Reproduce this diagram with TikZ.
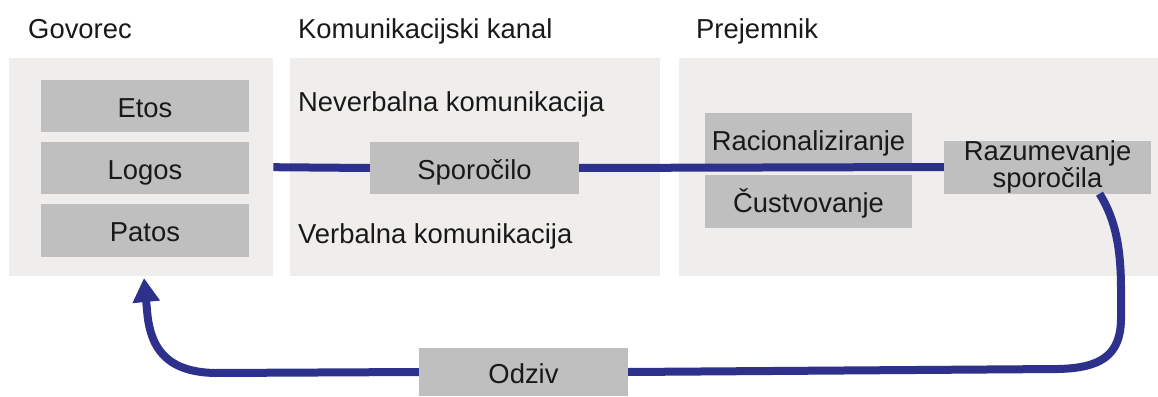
\documentclass[tikz,border=0pt]{standalone}
\usepackage{fontspec}
\setmainfont{Liberation Sans}
\usetikzlibrary{arrows.meta,calc}
\definecolor{panelgray}{RGB}{239,238,236}
\definecolor{boxgray}{RGB}{191,191,191}
\definecolor{navyline}{RGB}{46,49,140}
\definecolor{txtcol}{RGB}{25,25,25}
\newcommand\dfont{\fontsize{27.4}{27.4}\selectfont}
\begin{document}
\begin{tikzpicture}[x=1pt,y=-1pt,
  panel/.style={fill=panelgray, draw=none, inner sep=0pt, anchor=north west},
  graybox/.style={fill=boxgray, draw=none, inner sep=0pt, minimum width=208pt, minimum height=52pt, font=\dfont, text=txtcol, align=center},
  onebox/.style={graybox, text height=23pt, text depth=1pt},
  title/.style={anchor=base west, inner sep=0pt, font=\dfont, text=txtcol},
  conn/.style={draw=navyline, line width=8pt},
  every node/.append style={text=txtcol}]
\useasboundingbox (0,0) rectangle (1158,396);
% panels
\node[panel, minimum width=264pt, minimum height=218pt] (p1) at (9,58) {};
\node[panel, minimum width=370pt, minimum height=218pt] (p2) at (290,58) {};
\node[panel, minimum width=479pt, minimum height=218pt] (p3) at (679,58) {};
% titles
\node[title] (t1) at (28,39) {Govorec};
\node[title] (t2) at (298,39) {Komunikacijski kanal};
\node[title] (t3) at (696,39) {Prejemnik};
% speaker boxes
\node[onebox] (etos) at (145,106) {Etos};
\node[onebox] (logos) at (145,168) {Logos};
\node[onebox, minimum height=53pt] (patos) at (145,230.5) {Patos};
% channel
\node[title] (nv) at (298,111) {Neverbalna komunikacija};
\node[title] (vb) at (298,243) {Verbalna komunikacija};
\node[onebox, minimum width=209pt] (spor) at (474.5,168) {Sporočilo};
% receiver
\node[onebox, minimum width=207pt] (rac) at (808.5,139) {Racionaliziranje};
\node[onebox, minimum width=207pt, minimum height=53pt] (cust) at (808.5,201.5) {Čustvovanje};
\node[graybox, minimum width=207pt, minimum height=53pt] (raz) at (1047.5,167) {Razumevanje\\sporočila};
% response
\node[onebox, minimum width=209pt, minimum height=48pt] (odziv) at (523.5,372) {Odziv};
% connectors
\draw[conn] (p1.east) -- (spor.west);
\draw[conn] (spor.east) -- (raz.west);
\coordinate (rs) at ($(raz.south)+(52,0)$);
\draw[conn] (rs) .. controls (1116,220) and (1121,250) .. (1121,290)
  -- (1121,318) .. controls (1121,356) and (1100,368) .. (1058,369) -- (odziv.east);
\coordinate (tip) at (144,278);
\draw[conn, -{Triangle[width=26pt,length=24pt]}] (odziv.west) -- (215,373)
  .. controls (168,372) and (150,350) .. (147,310) -- (tip);
\end{tikzpicture}
\end{document}
